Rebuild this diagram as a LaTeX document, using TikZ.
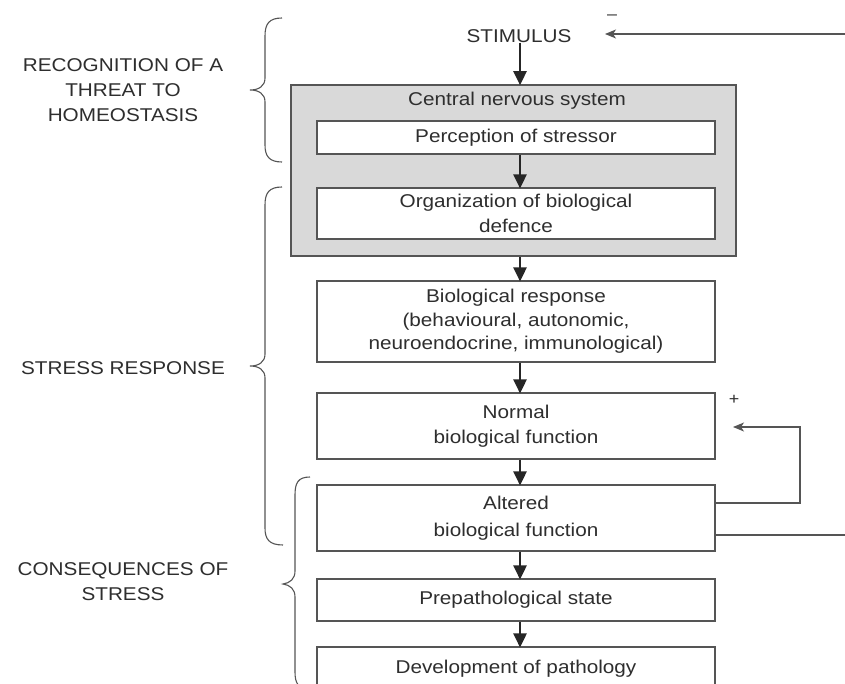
\documentclass[tikz,border=0pt]{standalone}
\usepackage{fontspec}
\setmainfont{Liberation Sans}[FakeStretch=1.12]
\usetikzlibrary{arrows.meta}
\definecolor{ink}{HTML}{2E2E2E}
\definecolor{linec}{HTML}{555555}
\definecolor{cnsfill}{HTML}{D9D9D9}
\tikzset{
  box/.style={draw=linec, line width=1.1pt, fill=white, minimum width=398pt, inner sep=0pt, align=center, text=ink, font=\fontsize{18.5}{25}\selectfont},
  lbl/.style={align=center, text=ink, inner sep=0pt, font=\fontsize{18.5}{25}\selectfont},
  flow/.style={draw=black!85, line width=2.6pt, -{Triangle[length=14pt,width=13pt,fill=black!85]}, shorten >=-1pt},
  fb/.style={draw=linec, line width=1.2pt},
  fbarr/.style={fb, -{Stealth[length=11pt,width=9pt,inset=3pt,fill=linec]}},
  brace/.style={draw=linec, line width=1.1pt},
}
\begin{document}
\begin{tikzpicture}[x=1pt,y=-1pt]
\clip (0,0) rectangle (845,684);
\fill[white] (0,0) rectangle (845,684);

% CNS container
\node[draw=linec, line width=1.6pt, fill=cnsfill, minimum width=445pt, minimum height=171pt, inner sep=0pt] (cns) at (513.5,170.5) {};
\node[lbl] (cnst) at (517,101) {Central nervous system};

\node[lbl] (stim) at (519,36) {STIMULUS};
\node[box, minimum height=33pt] (perc) at (516,137.5) {Perception of stressor};
\node[box, minimum height=51pt] (org) at (516,213.5) {Organization of biological\\defence};
\node[box, minimum height=81pt, font=\fontsize{18.5}{23.5}\selectfont] (bio) at (516,321.5) {Biological response\\(behavioural, autonomic,\\neuroendocrine, immunological)};
\node[box, minimum height=66pt] (norm) at (516,426) {Normal\\biological function};
\node[box, minimum height=66pt, font=\fontsize{18.5}{27}\selectfont] (alt) at (516,518) {Altered\\biological function};
\node[box, minimum height=42pt] (pre) at (516,600) {Prepathological state};
\node[box, minimum height=44pt] (dev) at (516,669) {Development of pathology};

% main flow arrows
\coordinate (ax) at (520,0);
\draw[flow] (stim.south -| ax) -- (cns.north -| ax);
\draw[flow] (perc.south -| ax) -- (org.north -| ax);
\draw[flow] (cns.south -| ax) -- (bio.north -| ax);
\draw[flow] (bio.south -| ax) -- (norm.north -| ax);
\draw[flow] (norm.south -| ax) -- (alt.north -| ax);
\draw[flow] (alt.south -| ax) -- (pre.north -| ax);
\draw[flow] (pre.south -| ax) -- (dev.north -| ax);

% feedback loops
\coordinate (plusend) at (733,427);
\coordinate (negend) at (605,34);
\draw[fbarr] (alt.east |- 0,503) -- (800,503) |- (plusend);
\draw[fbarr] (alt.east |- 0,535) -- (862,535) |- (negend);
\node[text=ink, inner sep=0pt, font=\fontsize{16}{16}\selectfont] (plus) at (734,400) {+};
\node[text=ink, inner sep=0pt, font=\fontsize{16}{16}\selectfont] (minus) at (612,17) {\textendash};

% left labels
\node[lbl] (l1) at (123,90) {RECOGNITION OF A\\THREAT TO\\HOMEOSTASIS};
\node[lbl] (l2) at (123,368) {STRESS RESPONSE};
\node[lbl] (l3) at (123,582) {CONSEQUENCES OF\\STRESS};

% braces
\draw[brace] (282,18) .. controls (269,18) and (265,24) .. (265,36) -- (265,78)
  .. controls (265,86) and (259,90) .. (250,90) .. controls (259,90) and (265,94) .. (265,102)
  -- (265,145) .. controls (265,156) and (269,162) .. (282,162);
\draw[brace] (282,187) .. controls (269,187) and (265,193) .. (265,205) -- (265,354)
  .. controls (265,362) and (259,366) .. (250,366) .. controls (259,366) and (265,370) .. (265,378)
  -- (265,528) .. controls (265,539) and (269,545) .. (283,545);
\draw[brace] (310,477) .. controls (298,477) and (295,483) .. (295,495) -- (295,571)
  .. controls (295,579) and (290,583) .. (283,584) .. controls (290,585) and (295,589) .. (295,597)
  -- (295,672) .. controls (295,683) and (298,689) .. (310,689);
\end{tikzpicture}
\end{document}
